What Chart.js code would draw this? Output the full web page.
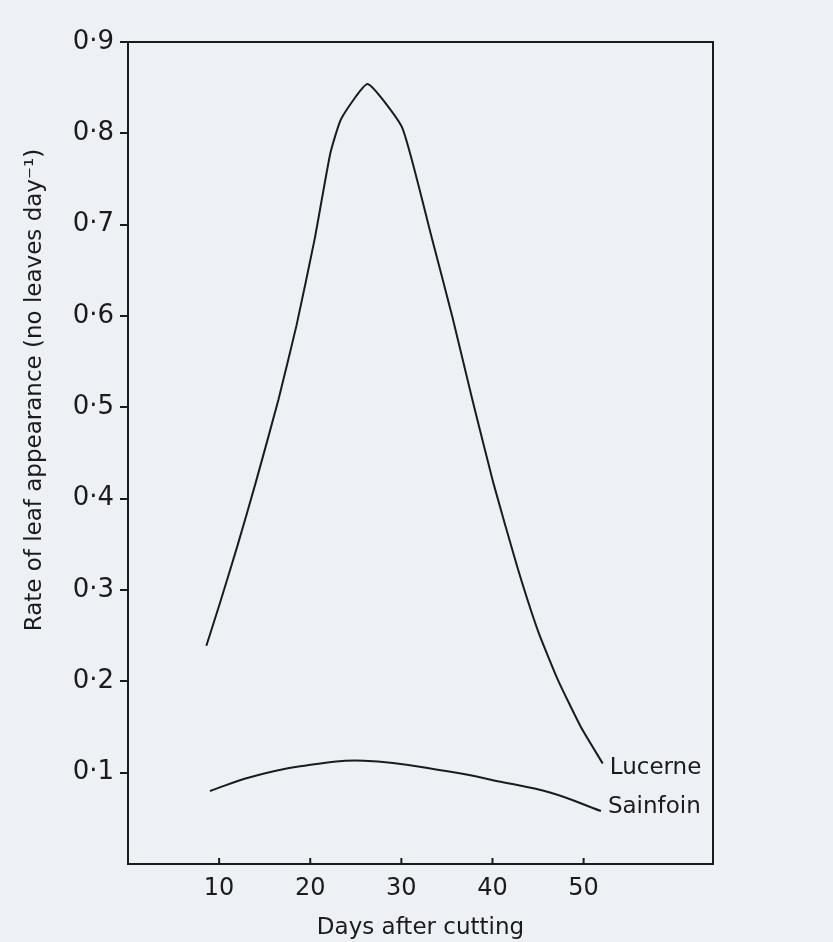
<!DOCTYPE html>
<html>
<head>
<meta charset="utf-8">
<script src="https://cdn.jsdelivr.net/npm/chart.js@4"></script>
<style>
  html, body { margin: 0; padding: 0; background: #edf0f5; }
  #wrap { width: 833px; height: 942px; }
</style>
</head>
<body>
<div id="wrap"><canvas id="leafChart" width="833" height="942"></canvas></div>
<script>
// values (days after cutting, leaves per day)
const lucerneDays = [8.6, 10.1, 12.0, 14.0, 16.5, 18.5, 20.5, 22.2, 23.4, 26.3, 30.1, 33.2, 35.6, 37.8, 40.1, 42.7, 45.0, 47.2, 49.7, 52.1];
const lucerneRate = [0.239, 0.286, 0.348, 0.417, 0.508, 0.590, 0.685, 0.778, 0.816, 0.854, 0.806, 0.691, 0.599, 0.508, 0.417, 0.326, 0.255, 0.201, 0.150, 0.110];

const sainfoinDays = [9.0, 13.4, 18.9, 25.9, 35.4, 40.9, 46.4, 51.9];
const sainfoinRate = [0.080, 0.095, 0.107, 0.113, 0.101, 0.090, 0.078, 0.058];

const xTicks = [10, 20, 30, 40, 50];
const seriesNames = ['Lucerne', 'Sainfoin'];

const ink = '#1b1b1d';
const paper = '#edf0f5';
const font = '"DejaVu Sans", sans-serif';

const toPoints = (xs, ys) => xs.map((x, i) => ({ x: x, y: ys[i] }));

const framePlugin = {
  id: 'frame',
  beforeDraw(chart) {
    const c = chart.ctx;
    c.save();
    c.fillStyle = paper;
    c.fillRect(0, 0, chart.width, chart.height);
    c.restore();
  },
  afterDraw(chart) {
    const c = chart.ctx;
    const a = chart.chartArea;
    const xs = chart.scales.x;
    c.save();
    c.strokeStyle = ink;
    c.lineWidth = 2;
    c.strokeRect(a.left, a.top, a.right - a.left, a.bottom - a.top);
    // inward ticks on the day axis
    xTicks.forEach(v => {
      const px = xs.getPixelForValue(v);
      c.beginPath();
      c.moveTo(px, a.bottom);
      c.lineTo(px, a.bottom - 6);
      c.stroke();
    });
    // curve names at the end of each line
    c.fillStyle = ink;
    c.font = '23px ' + font;
    c.textAlign = 'left';
    c.textBaseline = 'middle';
    chart.data.datasets.forEach((ds, i) => {
      const last = ds.data[ds.data.length - 1];
      const px = xs.getPixelForValue(last.x);
      const py = chart.scales.y.getPixelForValue(last.y);
      c.fillText(seriesNames[i], px + 7, py + (i === 0 ? 4 : -4));
    });
    // x axis title
    c.textAlign = 'center';
    c.font = '23px ' + font;
    c.fillText('Days after cutting', (a.left + a.right) / 2, 928);
    // y axis title
    c.translate(35, 390);
    c.rotate(-Math.PI / 2);
    c.fillText('Rate of leaf appearance (no leaves day\u207B\u00B9)', 0, 0);
    c.restore();
  }
};

new Chart(document.getElementById('leafChart'), {
  type: 'line',
  data: {
    datasets: [{
      label: seriesNames[0],
      data: toPoints(lucerneDays, lucerneRate),
      borderColor: ink,
      borderWidth: 2,
      pointRadius: 0,
      tension: 0.15,
      fill: false
    }, {
      label: seriesNames[1],
      data: toPoints(sainfoinDays, sainfoinRate),
      borderColor: ink,
      borderWidth: 2,
      pointRadius: 0,
      tension: 0.4,
      fill: false
    }]
  },
  options: {
    responsive: false,
    animation: false,
    layout: { padding: { top: 42, right: 120, left: 0, bottom: 0 } },
    plugins: {
      legend: { display: false },
      tooltip: { enabled: false }
    },
    scales: {
      x: {
        type: 'linear',
        min: 0,
        max: 64.2,
        afterBuildTicks: (scale) => {
          scale.ticks = xTicks.map(v => ({ value: v }));
        },
        afterFit: (scale) => { scale.height = 78; },
        grid: { display: false, drawTicks: false },
        border: { display: false },
        ticks: {
          color: ink,
          font: { family: font, size: 24 },
          padding: 10,
          maxRotation: 0
        },
        title: { display: false }
      },
      y: {
        min: 0,
        max: 0.9,
        afterFit: (scale) => { scale.width = 128; },
        grid: {
          drawOnChartArea: false,
          tickLength: 8,
          lineWidth: 2,
          color: (ctx) => (ctx.tick && ctx.tick.value < 0.05) ? 'rgba(0,0,0,0)' : ink
        },
        border: { display: false },
        ticks: {
          stepSize: 0.1,
          color: ink,
          font: { family: font, size: 26 },
          padding: 6,
          callback: (v) => v < 0.05 ? '' : v.toFixed(1).replace('.', '\u00B7')
        }
      }
    }
  },
  plugins: [framePlugin]
});
</script>
</body>
</html>
